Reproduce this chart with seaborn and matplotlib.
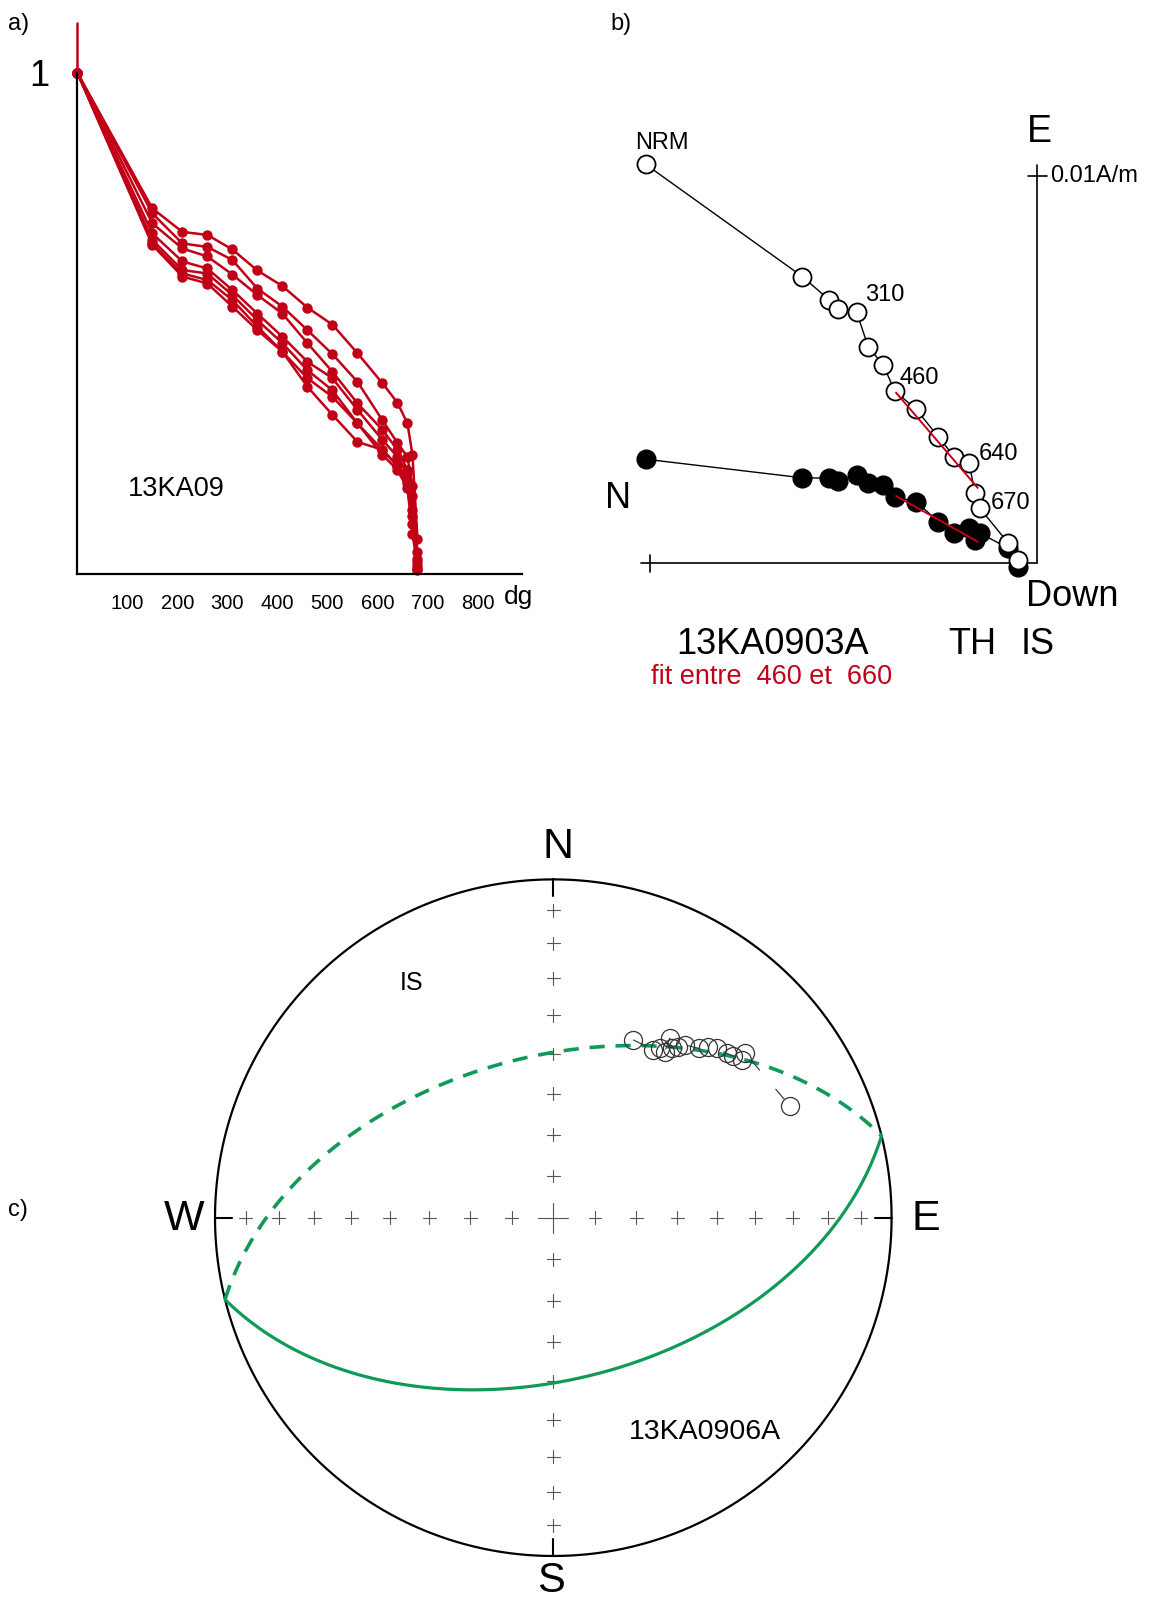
import numpy as np
import pandas as pd
import matplotlib
matplotlib.use("Agg")
import matplotlib.pyplot as plt
import seaborn as sns

sns.set_theme(style="white", rc={
    "axes.edgecolor": "black", "text.color": "black",
    "xtick.color": "black", "ytick.color": "black",
    "axes.labelcolor": "black",
})
plt.rcParams["font.family"] = ["Liberation Sans", "DejaVu Sans"]

RED = "#c10018"
GREEN = "#0f9a58"

# ---------------- a) normalised intensity vs temperature ----------------
temps_a = [0, 150, 210, 260, 310, 360, 410, 460, 510, 560, 610, 640, 660, 670, 680]
curve_A = [1.0, 0.729, 0.682, 0.676, 0.647, 0.605, 0.574, 0.531, 0.497, 0.440, 0.380, 0.341, 0.300, 0.237, 0.070]
curve_B = [1.0, 0.719, 0.659, 0.652, 0.626, 0.569, 0.533, 0.486, 0.438, 0.383, 0.306, 0.261, 0.233, 0.174, 0.030]
curve_C = [1.0, 0.699, 0.649, 0.633, 0.597, 0.556, 0.519, 0.460, 0.403, 0.340, 0.287, 0.247, 0.207, 0.154, 0.044]
curve_D = [1.0, 0.679, 0.623, 0.609, 0.566, 0.519, 0.473, 0.423, 0.390, 0.327, 0.267, 0.233, 0.200, 0.127, 0.010]
curve_E = [1.0, 0.666, 0.606, 0.599, 0.556, 0.506, 0.460, 0.406, 0.366, 0.300, 0.247, 0.215, 0.187, 0.114, 0.007]
curve_F = [1.0, 0.659, 0.599, 0.586, 0.546, 0.493, 0.443, 0.390, 0.353, 0.300, 0.237, 0.207, 0.170, 0.080, 0.015]
curve_G = [1.0, 0.656, 0.593, 0.579, 0.533, 0.486, 0.443, 0.373, 0.317, 0.263, 0.247, 0.215, 0.180, 0.100, 0.024]
nrm_bar = [1.0, 1.10]
xticks_a = [100, 200, 300, 400, 500, 600, 700, 800]

# ---------------- b) Zijderveld diagram (mA/m) ----------------
steps_b = ["NRM", 150, 210, 260, 310, 360, 410, 460, 510, 560, 610, 640, 660, 670, 680, 690]
north_b = [10.12, 6.07, 5.37, 5.14, 4.67, 4.37, 3.98, 3.68, 3.13, 2.56, 2.14, 1.76, 1.61, 1.48, 0.75, 0.49]
vert_b = [10.31, 7.41, 6.80, 6.57, 6.49, 5.60, 5.12, 4.45, 3.98, 3.27, 2.75, 2.58, 1.81, 1.42, 0.52, 0.09]
horiz_b = [2.69, 2.21, 2.20, 2.13, 2.28, 2.07, 2.02, 1.72, 1.59, 1.08, 0.78, 0.90, 0.60, 0.78, 0.39, -0.09]
fit_north = [3.65, 1.54]
fit_vert = [4.41, 1.95]
fit_horiz = [1.74, 0.56]
labelled_steps = ["NRM", 310, 460, 640, 670]

# ---------------- c) equal-area stereonet ----------------
dec_c = [24.2, 30.8, 32.2, 33.9, 33.0, 35.0, 36.2, 37.3, 40.6, 42.2, 44.0, 46.5, 48.1, 50.1, 49.3, 64.7]
inc_c = [-41.9, -41.8, -40.5, -40.6, -36.9, -38.8, -37.5, -36.0, -34.4, -32.3, -31.0, -30.1, -29.2, -28.2, -26.2, -23.7]
gc_strike = 76.0
gc_dip = 50.4

W, H = 1152, 1600
fig = plt.figure(figsize=(W / 100, H / 100), dpi=100)


def box(l, t, r, b):
    return [l / W, 1 - b / H, (r - l) / W, (b - t) / H]


def ftext(x, y, s, **kw):
    kw.setdefault("va", "center")
    fig.text(x / W, 1 - y / H, s, **kw)


def trace(ax, x, y, **kw):
    """Draw points in the given order, without any aggregation."""
    sns.lineplot(x=x, y=y, sort=False, estimator=None, errorbar=None, ax=ax, **kw)
    return ax.lines[-1]


# ======================= panel a =======================
ax_a = fig.add_axes(box(77.3, 22.5, 522, 573.6))
curves = {"A": curve_A, "B": curve_B, "C": curve_C, "D": curve_D,
          "E": curve_E, "F": curve_F, "G": curve_G}
df_a = pd.concat([pd.DataFrame({"temp": temps_a, "m": v, "curve": k})
                  for k, v in curves.items()], ignore_index=True)
sns.lineplot(data=df_a, x="temp", y="m", units="curve", estimator=None,
             sort=False, color=RED, lw=1.8, marker="o", markersize=7.5,
             markeredgecolor=RED, markeredgewidth=0, ax=ax_a, legend=False)
trace(ax_a, [0, 0], nrm_bar, color=RED, lw=1.8)
for ln in ax_a.lines:
    ln.set_clip_on(False)
ax_a.set_xlim(0, 889)
ax_a.set_ylim(0, 1.10)
for s in ["top", "right"]:
    ax_a.spines[s].set_visible(False)
for s in ["left", "bottom"]:
    ax_a.spines[s].set_linewidth(1.6)
ax_a.spines["left"].set_bounds(0, 1)
ax_a.set_xticks(xticks_a)
ax_a.set_xticklabels([str(t) for t in xticks_a], fontsize=14.5)
ax_a.set_yticks([0.5, 1.0])
ax_a.set_yticklabels(["", "1"], fontsize=26)
ax_a.tick_params(axis="both", direction="out", length=10.8, width=1.5)
ax_a.tick_params(axis="x", pad=4)
ax_a.tick_params(axis="y", pad=9)
ax_a.set_xlabel("")
ax_a.set_ylabel("")
ax_a.patch.set_alpha(0)
ftext(504, 597, "dg", fontsize=19, ha="left")
ftext(176, 489, "13KA09", fontsize=19.5, ha="center")
ftext(8, 24, "a)", fontsize=17, ha="left")

# ======================= panel b =======================
ax_b = fig.add_axes(box(600, 80, 1150, 700))
ax_b.set_xlim(11.30, -2.912)
ax_b.set_ylim(-3.532, 12.49)
ax_b.axis("off")
# axes of the orthogonal projection
ax_b.plot([10.23, 0], [0, 0], color="black", lw=1.2)
ax_b.plot([0, 0], [0, 10.29], color="black", lw=1.2)
ax_b.plot([10, 10], [-0.215, 0.215], color="black", lw=1.2)
ax_b.plot([0.245, -0.245], [10, 10], color="black", lw=1.2)

trace(ax_b, north_b, horiz_b, color="black", lw=1.0, marker="o",
      markersize=13.5, markerfacecolor="black", markeredgecolor="black",
      markeredgewidth=1.0)
trace(ax_b, north_b, vert_b, color="black", lw=1.0, marker="o",
      markersize=13, markerfacecolor="white", markeredgecolor="black",
      markeredgewidth=1.3)
trace(ax_b, fit_north, fit_vert, color=RED, lw=1.4)
trace(ax_b, fit_north, fit_horiz, color=RED, lw=1.4)
for ln in ax_b.lines:
    ln.set_clip_on(False)

offsets = {"NRM": (11.4, 15.7, "center"), 310: (6.0, 12.2, "left"),
           460: (3.1, 9.4, "left"), 640: (7.2, 6.9, "left"),
           670: (7.7, 4.0, "left")}
for st in labelled_steps:
    i = steps_b.index(st)
    dx, dy, ha = offsets[st]
    ax_b.annotate(str(st), (north_b[i], vert_b[i]), xytext=(dx, dy),
                  textcoords="offset points", fontsize=17, ha=ha, va="center")

ftext(610, 24, "b)", fontsize=17, ha="left")
ftext(1039, 132, "E", fontsize=27, ha="center")
ftext(618, 499, "N", fontsize=26, ha="center")
ftext(1050, 176, "0.01A/m", fontsize=17, ha="left")
ftext(1026, 596, "Down", fontsize=26, ha="left")
ftext(676, 645, "13KA0903A", fontsize=26, ha="left")
ftext(948, 645, "TH", fontsize=26, ha="left")
ftext(1021, 645, "IS", fontsize=26, ha="left")
ftext(651, 677, "fit entre  460 et  660", fontsize=19.5, ha="left", color=RED)

# ======================= panel c =======================
ax_c = fig.add_axes(box(130, 780, 976.6, 1600))
ax_c.set_xlim(-1.2513, 1.2513)
ax_c.set_ylim(-1.1301, 1.2938)
ax_c.axis("off")


def lambert(trend, plunge):
    t = np.radians(np.asarray(trend, float))
    p = np.radians(np.abs(np.asarray(plunge, float)))
    r = np.sqrt(2.0) * np.sin((np.pi / 2 - p) / 2)
    return r * np.sin(t), r * np.cos(t)


# primitive circle
th = np.linspace(0, 2 * np.pi, 721)
trace(ax_c, np.sin(th), np.cos(th), color="black", lw=1.6)
# cardinal ticks pointing inward
for az in [0, 90, 180, 270]:
    a = np.radians(az)
    ax_c.plot([np.sin(a), 0.95 * np.sin(a)], [np.cos(a), 0.95 * np.cos(a)],
              color="black", lw=1.5)
# small crosses every 10 degrees along N-S and E-W
for az in [0, 90, 180, 270]:
    for colat in range(10, 90, 10):
        gx, gy = lambert(az, 90 - colat)
        ax_c.plot([gx - 0.019, gx + 0.019], [gy, gy], color="#555555", lw=0.8)
        ax_c.plot([gx, gx], [gy - 0.019, gy + 0.019], color="#555555", lw=0.8)
ax_c.plot([-0.044, 0.044], [0, 0], color="#555555", lw=0.8)
ax_c.plot([0, 0], [-0.044, 0.044], color="#555555", lw=0.8)

# remagnetisation great circle: lower hemisphere solid, upper dashed
trend_gc = np.linspace(gc_strike, gc_strike + 180, 361)
plunge_gc = np.degrees(np.arctan(np.tan(np.radians(gc_dip)) *
                                 np.sin(np.radians(trend_gc - gc_strike))))
gx, gy = lambert(trend_gc, plunge_gc)
trace(ax_c, gx, gy, color=GREEN, lw=2.3)
dashed = trace(ax_c, -gx, -gy, color=GREEN, lw=2.6)
dashed.set_dashes((4.2, 3.0))

# demagnetisation directions (negative inclination -> open symbols)
px, py = lambert(dec_c, inc_c)
path = trace(ax_c, px, py, color="#333333", lw=0.8)
path.set_dashes((12, 22))
trace(ax_c, px, py, linestyle="none", marker="o", markersize=13,
      markerfacecolor="none", markeredgecolor="#333333", markeredgewidth=0.9)
for ln in ax_c.lines:
    ln.set_clip_on(False)

ftext(558.5, 847, "N", fontsize=31, ha="center")
ftext(551, 1581, "S", fontsize=30, ha="center")
ftext(184, 1219, "W", fontsize=31, ha="center")
ftext(926, 1219, "E", fontsize=31, ha="center")
ftext(411.5, 983, "IS", fontsize=18, ha="center")
ftext(704.5, 1432, "13KA0906A", fontsize=20.5, ha="center")
ftext(8, 1210, "c)", fontsize=17, ha="left")

fig.savefig("out.png", dpi=100, facecolor="white")
